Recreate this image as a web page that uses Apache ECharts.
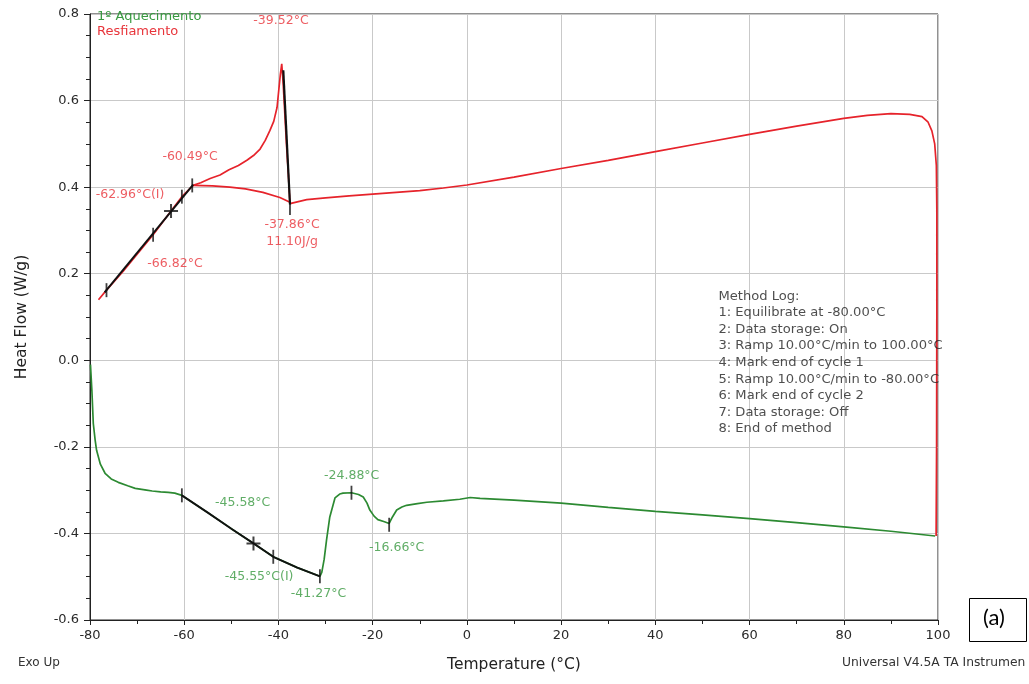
<!DOCTYPE html>
<html>
<head>
<meta charset="utf-8">
<script src="https://cdn.jsdelivr.net/npm/echarts@6/dist/echarts.min.js"></script>
<style>html,body{margin:0;padding:0;background:#fff}#c{width:1029px;height:684px}</style>
</head>
<body>
<div id="c"></div>
<script>
// ---- data ----
const xTicks = [-80, -60, -40, -20, 0, 20, 40, 60, 80, 100];
const yTicks = [-0.6, -0.4, -0.2, 0.0, 0.2, 0.4, 0.6, 0.8];

// 1º Aquecimento (heating) : temperature (°C), heat flow (W/g)
const greenT  = [-79.9,-79.6,-79.3,-78.9,-78.6,-77.8,-76.8,-75.5,-74,-72,-70.4,-68,-66.8,-65,-63.4,-62,-60.5,-55,-50,-45.3,-41.1,-36,-31.2,-30.8,-30.3,-29.8,-29.1,-28,-27,-26.3,-24.5,-23,-22,-21.2,-20.6,-19.7,-18.9,-17.5,-16.5,-15.8,-14.9,-13.8,-12.8,-10.5,-8.5,-5,-1.5,0.7,2.8,10,20,30,40,50,60,70,80,90,99.4];
const greenHF = [-0.01,-0.07,-0.146,-0.185,-0.208,-0.24,-0.261,-0.274,-0.282,-0.29,-0.296,-0.3,-0.302,-0.304,-0.305,-0.307,-0.312,-0.352,-0.389,-0.423,-0.454,-0.479,-0.499,-0.49,-0.46,-0.416,-0.362,-0.318,-0.309,-0.307,-0.306,-0.31,-0.316,-0.33,-0.346,-0.36,-0.368,-0.373,-0.377,-0.362,-0.346,-0.339,-0.335,-0.331,-0.328,-0.325,-0.321,-0.317,-0.319,-0.323,-0.33,-0.34,-0.349,-0.357,-0.366,-0.375,-0.385,-0.395,-0.406];

// Resfiamento (cooling)
const redT  = [99.6,99.7,99.75,99.75,99.65,99.3,98.7,97.9,96.6,94,90,85,80,70,60,50,40,30,20,10,0,-5,-10,-15,-20,-25,-30,-34,-37.55,-37.9,-38.3,-38.7,-39.0,-39.3,-39.6,-40.3,-41,-41.8,-42.8,-43.9,-45.3,-46.7,-48.5,-50.5,-52.4,-54.5,-56.5,-58.1,-58.4,-60.5,-62.8,-66.6,-70,-73,-76.5,-78.2];
const redHF = [-0.406,-0.2,0.1,0.35,0.45,0.5,0.53,0.55,0.563,0.568,0.57,0.566,0.559,0.541,0.522,0.502,0.482,0.462,0.443,0.423,0.405,0.398,0.392,0.388,0.384,0.38,0.375,0.371,0.362,0.43,0.5,0.58,0.64,0.685,0.66,0.584,0.552,0.531,0.508,0.488,0.473,0.462,0.45,0.44,0.428,0.42,0.41,0.404,0.402,0.378,0.345,0.29,0.245,0.205,0.162,0.14];

// peak integration baseline (cooling)
const redBaseT  = [-37.55,-39.7,-43.3,-47,-50.3,-54,-58.1];
const redBaseHF = [0.365,0.376,0.388,0.396,0.40,0.403,0.404];

// analysis lines (black)
const blackRedA   = [[-58.1,0.406],[-76.9,0.157]];
const blackRedB   = [[-38.97,0.67],[-37.55,0.36]];
const blackGreen  = [[-60.5,-0.312],[-55,-0.352],[-50,-0.389],[-45.3,-0.423],[-41.1,-0.454],[-36,-0.479],[-31.2,-0.499]];

// analysis markers
const tickMarks = [[-76.5,0.162],[-66.6,0.29],[-60.5,0.378],[-58.3,0.404],[-37.55,0.352],[-60.5,-0.312],[-41.1,-0.454],[-31.2,-0.499],[-24.5,-0.306],[-16.5,-0.38]];
const plusMarks = [[-62.8,0.345],[-45.3,-0.423]];

// annotation texts
const redLabels = [[-39.46,0.785,'-39.52°C'],[-58.77,0.471,'-60.49°C'],[-71.5,0.383,'-62.96°C(I)'],[-61.96,0.224,'-66.82°C'],[-37.12,0.314,'-37.86°C'],[-37.12,0.275,'11.10J/g']];
const greenLabels = [[-47.6,-0.330,'-45.58°C'],[-44.1,-0.501,'-45.55°C(I)'],[-31.5,-0.540,'-41.27°C'],[-24.45,-0.266,'-24.88°C'],[-14.9,-0.432,'-16.66°C']];
const methodLog = ['Method Log:','1: Equilibrate at -80.00°C','2: Data storage: On','3: Ramp 10.00°C/min to 100.00°C','4: Mark end of cycle 1','5: Ramp 10.00°C/min to -80.00°C','6: Mark end of cycle 2','7: Data storage: Off','8: End of method'];
const methodLogPos = [53.5, 0.166];

// ---- chart ----
const RED = '#e6232b', GREEN = '#2c8a32', RED_T = '#e8353b', GREEN_T = '#389940';
const FONT = 'DejaVu Sans';
const zip = (a, b) => a.map((v, i) => [v, b[i]]);

function labelSeries(arr, color) {
  return {
    type: 'scatter', symbol: 'circle', symbolSize: 1, silent: true, z: 10,
    itemStyle: {color: 'rgba(0,0,0,0)'},
    label: {show: true, position: 'inside', color: color, fontFamily: FONT, fontSize: 12.5,
      formatter: p => p.value[2]},
    data: arr.map(d => [d[0], d[1], d[2]])
  };
}

const chart = echarts.init(document.getElementById('c'), null, {renderer: 'canvas'});
chart.setOption({
  animation: false,
  backgroundColor: '#fff',
  grid: {left: 90, right: 91, top: 14, bottom: 64, show: true, borderColor: '#222', borderWidth: 1},
  legend: {
    orient: 'vertical', left: 87, top: 5, itemWidth: 0, itemHeight: 0, itemGap: 2,
    selectedMode: false, icon: 'rect',
    textStyle: {fontFamily: FONT, fontSize: 13},
    data: [{name: '1º Aquecimento', textStyle: {color: GREEN_T}}, {name: 'Resfiamento', textStyle: {color: RED_T}}]
  },
  xAxis: {
    type: 'value', min: xTicks[0], max: xTicks[xTicks.length - 1], interval: 20,
    name: 'Temperature (°C)', nameLocation: 'middle', nameGap: 37,
    nameTextStyle: {fontFamily: FONT, fontSize: 15.5, color: '#222'},
    axisLine: {show: true, onZero: false, lineStyle: {color: '#222'}},
    axisTick: {show: true, length: 5, lineStyle: {color: '#222'}},
    minorTick: {show: true, splitNumber: 2, length: 4, lineStyle: {color: '#222'}},
    axisLabel: {fontFamily: FONT, fontSize: 13, color: '#2a2a2a', margin: 9},
    splitLine: {show: true, lineStyle: {color: '#c9c9c9', width: 1}}
  },
  yAxis: {
    type: 'value', min: yTicks[0], max: yTicks[yTicks.length - 1], interval: 0.2,
    name: 'Heat Flow (W/g)', nameLocation: 'middle', nameGap: 60,
    nameTextStyle: {fontFamily: FONT, fontSize: 15.5, color: '#222'},
    axisLine: {show: true, onZero: false, lineStyle: {color: '#222'}},
    axisTick: {show: true, length: 6, lineStyle: {color: '#222'}},
    minorTick: {show: true, splitNumber: 4, length: 4, lineStyle: {color: '#222'}},
    axisLabel: {fontFamily: FONT, fontSize: 13, color: '#2a2a2a', margin: 11, formatter: v => v.toFixed(1)},
    splitLine: {show: true, lineStyle: {color: '#c9c9c9', width: 1}}
  },
  series: [
    {name: '1º Aquecimento', type: 'line', data: zip(greenT, greenHF), showSymbol: false, symbol: 'none',
      lineStyle: {color: GREEN, width: 1.7}, itemStyle: {color: GREEN}, z: 3},
    {name: 'Resfiamento', type: 'line', data: zip(redT, redHF), showSymbol: false, symbol: 'none',
      lineStyle: {color: RED, width: 1.7}, itemStyle: {color: RED}, z: 3},
    {name: 'baseline', type: 'line', data: zip(redBaseT, redBaseHF), symbol: 'none',
      lineStyle: {color: RED, width: 1.7}, z: 3},
    {name: 'a1', type: 'line', data: blackRedA, symbol: 'none', lineStyle: {color: '#111', width: 1.9}, z: 4},
    {name: 'a2', type: 'line', data: blackRedB, symbol: 'none', lineStyle: {color: '#111', width: 2.2}, z: 4},
    {name: 'a3', type: 'line', data: blackGreen, symbol: 'none', lineStyle: {color: '#111', width: 1.9}, z: 4},
    {name: 'ticks', type: 'scatter', data: tickMarks, symbol: 'rect', symbolSize: [1.8, 14],
      itemStyle: {color: '#111'}, silent: true, z: 5},
    {name: 'plus', type: 'scatter', data: plusMarks, symbol: 'path://M6,0h2v6h6v2h-6v6h-2v-6h-6v-2h6z', symbolSize: 14,
      itemStyle: {color: '#111'}, silent: true, z: 5},
    labelSeries(redLabels, RED_T),
    labelSeries(greenLabels, GREEN_T),
    {
      type: 'scatter', symbol: 'circle', symbolSize: 1, silent: true, z: 10,
      itemStyle: {color: 'rgba(0,0,0,0)'},
      label: {show: true, position: [0, 0], align: 'left', verticalAlign: 'top', color: '#222',
        fontFamily: FONT, fontSize: 13.1, lineHeight: 16.6, formatter: () => methodLog.join('\n')},
      data: [methodLogPos]
    }
  ],
  graphic: [
    {type: 'text', left: 18, top: 657, style: {text: 'Exo Up', fontFamily: FONT, fontSize: 12, fill: '#333'}},
    {type: 'text', left: 842, top: 657, style: {text: 'Universal V4.5A TA Instrumen', fontFamily: FONT, fontSize: 12.3, fill: '#333'}},
    {type: 'rect', left: 969, top: 598, shape: {width: 57, height: 43}, style: {fill: '#fff', stroke: '#000', lineWidth: 1}},
    {type: 'text', left: 983, top: 607, style: {text: '(a)', fontFamily: 'Lato', fontSize: 22, fill: '#000'}}
  ]
});
</script>
</body>
</html>
